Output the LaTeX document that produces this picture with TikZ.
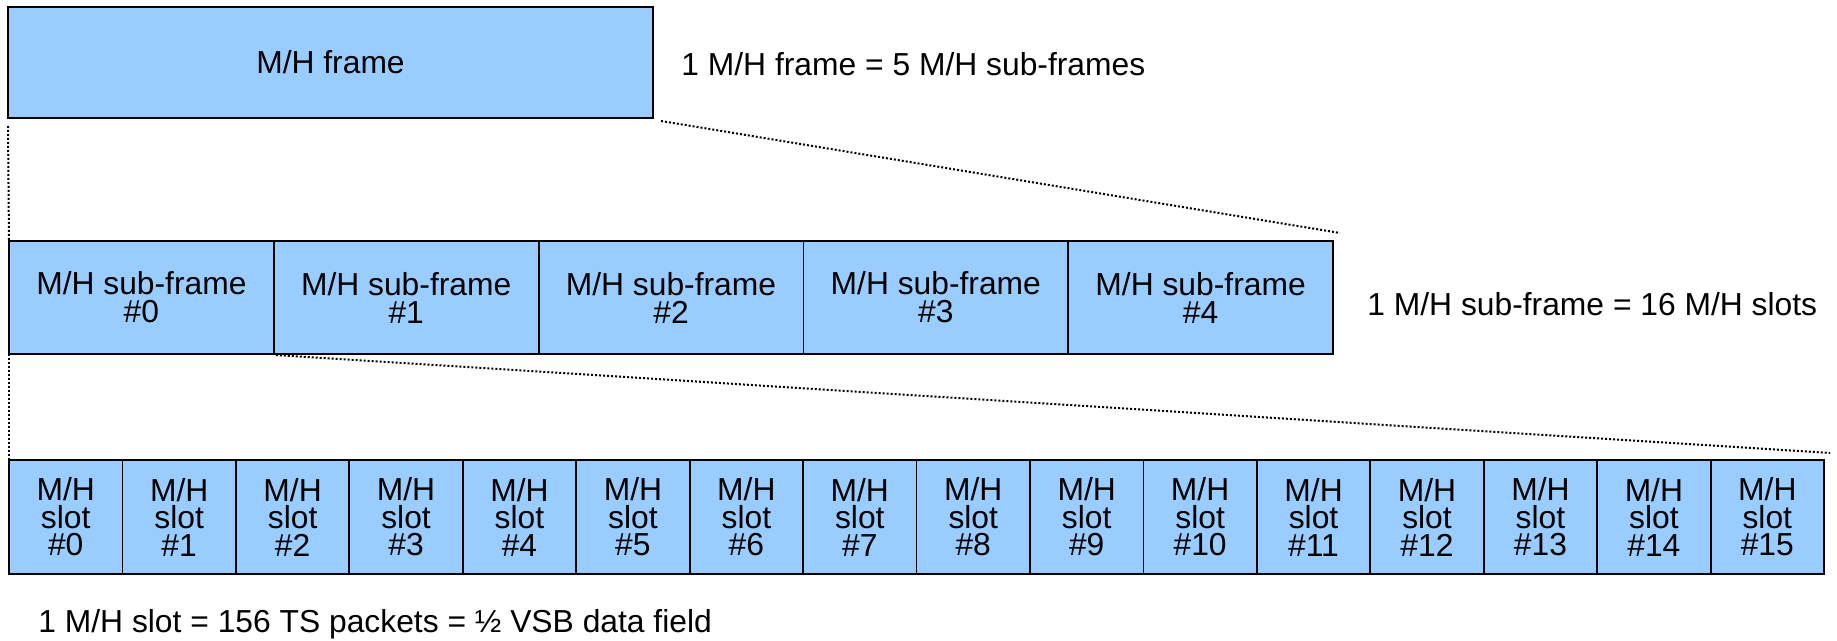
\documentclass[tikz,border=0pt]{standalone}
\usepackage{fontspec}
\setmainfont{Liberation Sans}
\definecolor{boxblue}{RGB}{153,204,255}
\begin{document}
\begin{tikzpicture}[x=0.5pt,y=-0.5pt,
  box/.style={draw=black, line width=0.9pt, fill=boxblue, inner sep=0pt, outer sep=0pt, align=center},
  bigtxt/.style={font=\fontsize{15.9}{14}\selectfont},
  slottxt/.style={font=\fontsize{15.9}{13.75}\selectfont},
  lbl/.style={anchor=base west, inner sep=0pt, font=\fontsize{15.9}{19}\selectfont},
  dots/.style={line width=1pt, dash pattern=on 1pt off 1pt}]
\useasboundingbox (0,0) rectangle (1837,641);
\node[box, bigtxt, anchor=north west, minimum width=322.5pt, minimum height=55.5pt] (frame) at (8,7) {M/H frame};
\foreach \i in {0,...,4}
  \node[box, bigtxt, anchor=north west, minimum width=132.4pt, minimum height=56.5pt] (sf\i) at ({9+264.8*\i},241) {M/H sub-frame\\\#\i};
\foreach \i in {0,...,15}
  \node[box, slottxt, anchor=north west, minimum width=56.72pt, minimum height=57pt] (sl\i) at ({9+113.44*\i},460) {M/H\\slot\\\#\i};
\node[lbl] (t1) at (681,76) {1 M/H frame = 5 M/H sub-frames};
\node[lbl] (t2) at (1367,316) {1 M/H sub-frame = 16 M/H slots};
\node[lbl] (t3) at (38,632) {1 M/H slot = 156 TS packets = ½ VSB data field};
\coordinate (c1) at ([shift={(7,-8)}]sf4.north east);
\coordinate (c2) at ([shift={(6,-7)}]sl15.north east);
\draw[dots] ([shift={(8,3)}]frame.south east) -- (c1);
\draw[dots] ([shift={(0,8)}]frame.south west) -- (sf0.north west);
\draw[dots] ([shift={(2,1)}]sf0.south east) -- (c2);
\draw[dots] (sf0.south west) -- (sl0.north west);
\end{tikzpicture}
\end{document}
